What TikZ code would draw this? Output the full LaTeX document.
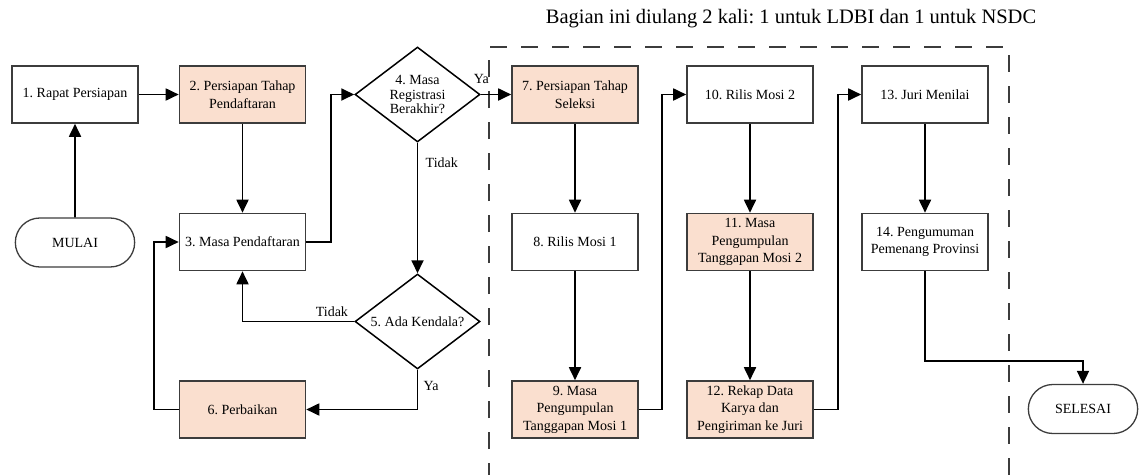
\documentclass[tikz,border=0pt]{standalone}
\usepackage{fontspec}
\setmainfont{Liberation Serif}
\usetikzlibrary{positioning, arrows.meta, shapes.geometric, shapes.misc}

\definecolor{peach}{RGB}{250,223,207}
\definecolor{edge}{RGB}{60,60,60}

\frenchspacing
\begin{document}
\begin{tikzpicture}[
  x=1pt, y=-1pt,
  font=\fontsize{14}{17.5}\selectfont,
  step box/.style={rectangle, draw=edge, line width=1.6pt, minimum width=126, minimum height=57, inner sep=2pt, align=center},
  work box/.style={step box, fill=peach},
  terminal/.style={rounded rectangle, draw=edge, line width=1.3pt, minimum width=126, minimum height=49},
  decision/.style={diamond, draw=black, line width=1.5pt, minimum width=125, minimum height=95, inner sep=0pt},
  dtext/.style={align=center, font=\fontsize{14}{14.5}\selectfont},
  arrow/.style={-{Triangle[length=13pt,width=12pt]}, line width=1.8pt},
  ]

  \useasboundingbox (0,0) rectangle (1143,474);

  % Registration phase
  \node[terminal] (mulai) at (75,242.5) {MULAI};
  \node[step box] (s1) at (75,94.5) {1. Rapat Persiapan};
  \node[work box] (s2) at (242.5,94.5) {2. Persiapan Tahap\\Pendaftaran};
  \node[step box] (s3) at (242.5,242) {3. Masa Pendaftaran};
  \node[work box] (s6) at (242.5,409.5) {6. Perbaikan};
  \node[decision, label={[dtext]center:{4. Masa\\Registrasi\\Berakhir?}}] (d4) at (417.5,94.5) {};
  \node[decision, label={[dtext]center:{5. Ada Kendala?}}] (d5) at (417.5,321.5) {};

  % Selection phase (repeated)
  \node[work box] (s7) at (575,94.5) {7. Persiapan Tahap\\Seleksi};
  \node[step box] (s8) at (575,242) {8. Rilis Mosi 1};
  \node[work box] (s9) at (575,409.5) {9. Masa\\Pengumpulan\\Tanggapan Mosi 1};
  \node[step box] (s10) at (750,94.5) {10. Rilis Mosi 2};
  \node[work box] (s11) at (750,242) {11. Masa\\Pengumpulan\\Tanggapan Mosi 2};
  \node[work box] (s12) at (750,409.5) {12. Rekap Data\\Karya dan\\Pengiriman ke Juri};
  \node[step box] (s13) at (925,94.5) {13. Juri Menilai};
  \node[step box] (s14) at (925,242) {14. Pengumuman\\Pemenang Provinsi};
  \node[terminal, minimum width=116] (selesai) at (1083,409) {SELESAI};

  % Repeated part frame
  \draw[line width=1.3pt, edge, dash pattern=on 17pt off 14pt] (489,480) -- (489,47) -- (1009,47) -- (1009,480);
  \node[font=\fontsize{20.5}{24}\selectfont] (judul) at (791,19) {Bagian ini diulang 2 kali: 1 untuk LDBI dan 1 untuk NSDC};

  % Connectors
  \draw[arrow] (mulai) -- (s1);
  \draw[arrow] (s1) -- (s2);
  \draw[arrow] (s2) -- (s3);
  \draw[arrow] (s3.east) -- ++(25,0) |- (d4.west);
  \draw[arrow] (d4.east) -- (s7.west) node[pos=0, anchor=south west, xshift=-11pt, yshift=7pt] (ya4) {Ya};
  \draw[arrow] (d4.south) -- (d5.north) node[pos=0.15, right=4pt] (tidak4) {Tidak};
  \draw[arrow] (d5.west) -| (s3.south) node[pos=0.1, above=1pt] (tidak5) {Tidak};
  \draw[arrow] (d5.south) |- (s6.east) node[pos=0.2, right=2pt] (ya5) {Ya};
  \draw[arrow] (s6.west) -- ++(-25,0) |- (s3.west);

  \draw[arrow] (s7) -- (s8);
  \draw[arrow] (s8) -- (s9);
  \draw[arrow] (s9.east) -- ++(23,0) |- (s10.west);
  \draw[arrow] (s10) -- (s11);
  \draw[arrow] (s11) -- (s12);
  \draw[arrow] (s12.east) -- ++(24,0) |- (s13.west);
  \draw[arrow] (s13) -- (s14);
  \draw[arrow] (s14.south) -- ++(0,90) -| (selesai.north);

\end{tikzpicture}
\end{document}
